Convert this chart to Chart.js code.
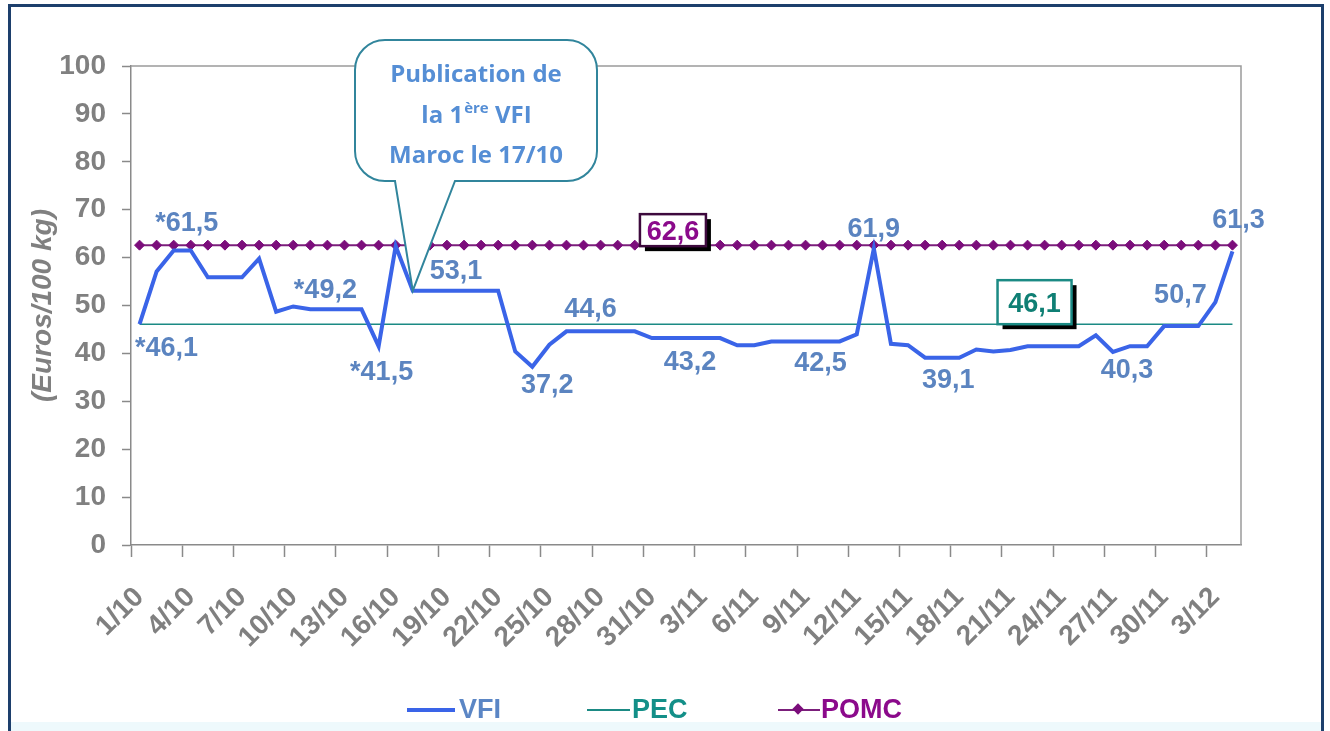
<!DOCTYPE html>
<html>
<head>
<meta charset="utf-8">
<script src="https://cdn.jsdelivr.net/npm/chart.js@4.4.0/dist/chart.umd.min.js"></script>
<style>
  body { margin: 0; background: #fff; }
  #wrap { position: relative; width: 1330px; height: 731px; overflow: hidden; background: #fff;
          font-family: "Liberation Sans", Arial, sans-serif; }
  #frame { position: absolute; left: 8px; top: 4px; width: 1316px; height: 780px;
           border: 3px solid #1d3f6c; box-sizing: border-box; }
  #strip { position: absolute; left: 11px; width: 1310px; top: 722px; height: 20px; background: #eef9fc; }
  canvas { position: absolute; left: 0; top: 0; }
  .lg { position: absolute; top: 694px; font: bold 27px "Liberation Sans", Arial, sans-serif; line-height: 30px; }
  .ln { position: absolute; }
</style>
</head>
<body>
<div id="wrap">
  <div id="frame"></div>
  <div id="strip"></div>
  <canvas id="chart" width="1330" height="731"></canvas>
  <div class="ln" style="left:407px;top:708px;width:48px;height:4px;background:#3a64e8"></div>
  <div class="lg" style="left:459px;color:#5b86c5">VFI</div>
  <div class="ln" style="left:587px;top:709px;width:43px;height:2px;background:#1b8a84"></div>
  <div class="lg" style="left:632px;color:#138f88">PEC</div>
  <div class="ln" style="left:778px;top:709px;width:42px;height:2px;background:#7b1f7b"></div>
  <div class="ln" style="left:794px;top:705px;width:8px;height:8px;background:#7b0d7b;transform:rotate(45deg)"></div>
  <div class="lg" style="left:821px;color:#8b0a8b">POMC</div>
</div>
<script>
// daily categories, 1 Oct -> 4 Dec
const categories = [
  '1/10','2/10','3/10','4/10','5/10','6/10','7/10','8/10','9/10','10/10',
  '11/10','12/10','13/10','14/10','15/10','16/10','17/10','18/10','19/10','20/10',
  '21/10','22/10','23/10','24/10','25/10','26/10','27/10','28/10','29/10','30/10','31/10',
  '1/11','2/11','3/11','4/11','5/11','6/11','7/11','8/11','9/11','10/11',
  '11/11','12/11','13/11','14/11','15/11','16/11','17/11','18/11','19/11','20/11',
  '21/11','22/11','23/11','24/11','25/11','26/11','27/11','28/11','29/11','30/11',
  '1/12','2/12','3/12','4/12'
];

const vfi = [
  46.1, 57.1, 61.5, 61.5, 55.9, 55.9, 55.9, 59.8, 48.7, 49.8,
  49.2, 49.2, 49.2, 49.2, 41.5, 62.4, 53.1, 53.1, 53.1, 53.1,
  53.1, 53.1, 40.4, 37.2, 41.8, 44.6, 44.6, 44.6, 44.6, 44.6, 43.2,
  43.2, 43.2, 43.2, 43.2, 41.7, 41.7, 42.5, 42.5, 42.5, 42.5,
  42.5, 44.0, 61.9, 42.0, 41.7, 39.1, 39.1, 39.1, 40.8, 40.4,
  40.7, 41.5, 41.5, 41.5, 41.5, 43.8, 40.3, 41.5, 41.5, 45.7,
  45.7, 45.7, 50.7, 61.3
];

const pec = [
  46.1, 46.1, 46.1, 46.1, 46.1, 46.1, 46.1, 46.1, 46.1, 46.1,
  46.1, 46.1, 46.1, 46.1, 46.1, 46.1, 46.1, 46.1, 46.1, 46.1,
  46.1, 46.1, 46.1, 46.1, 46.1, 46.1, 46.1, 46.1, 46.1, 46.1, 46.1,
  46.1, 46.1, 46.1, 46.1, 46.1, 46.1, 46.1, 46.1, 46.1, 46.1,
  46.1, 46.1, 46.1, 46.1, 46.1, 46.1, 46.1, 46.1, 46.1, 46.1,
  46.1, 46.1, 46.1, 46.1, 46.1, 46.1, 46.1, 46.1, 46.1, 46.1,
  46.1, 46.1, 46.1, 46.1
];

const pomc = [
  62.6, 62.6, 62.6, 62.6, 62.6, 62.6, 62.6, 62.6, 62.6, 62.6,
  62.6, 62.6, 62.6, 62.6, 62.6, 62.6, 62.6, 62.6, 62.6, 62.6,
  62.6, 62.6, 62.6, 62.6, 62.6, 62.6, 62.6, 62.6, 62.6, 62.6, 62.6,
  62.6, 62.6, 62.6, 62.6, 62.6, 62.6, 62.6, 62.6, 62.6, 62.6,
  62.6, 62.6, 62.6, 62.6, 62.6, 62.6, 62.6, 62.6, 62.6, 62.6,
  62.6, 62.6, 62.6, 62.6, 62.6, 62.6, 62.6, 62.6, 62.6, 62.6,
  62.6, 62.6, 62.6, 62.6
];

const yTicks = [0, 10, 20, 30, 40, 50, 60, 70, 80, 90, 100];

// value labels written on the VFI curve: [index, text]
const vfiLabels = [
  [0, '*46,1'], [3, '*61,5'], [11, '*49,2'], [14, '*41,5'], [18, '53,1'],
  [23, '37,2'], [26, '44,6'], [32, '43,2'], [39, '42,5'], [43, '61,9'],
  [47, '39,1'], [57, '40,3'], [63, '50,7'], [64, '61,3']
];
const boxLabels = [
  { series: 'pomc', index: 31, text: '62,6' },
  { series: 'pec', index: 52, text: '46,1' }
];
const calloutLines = ['Publication de', 'la 1', 'ère', ' VFI', 'Maroc le 17/10'];

// ---- layout (pixel offsets from the anchored point) ----
const labelOffsets = {
  0: [27, 22], 3: [-4, -29], 11: [-2, -21], 14: [3, 24], 18: [9, -22],
  23: [15, 16], 26: [7, -24], 32: [4, 22], 39: [15, 20], 43: [0, -21],
  47: [6, 20], 57: [14, 16], 63: [-35, -9], 64: [6, -33]
};
const boxStyle = {
  pomc: { dx: 4, dy: -15, w: 66, h: 32, color: '#8b0a8b', border: '#3d0a3d' },
  pec: { dx: 7, dy: -22, w: 74, h: 44, color: '#0f7f74', border: '#1b8a84' }
};

const FONT = '"Liberation Sans", Arial, sans-serif';
Chart.defaults.font.family = FONT;

const decorations = {
  id: 'decorations',
  beforeDatasetsDraw(chart) {
    const { ctx, chartArea: a } = chart;
    ctx.save();
    ctx.strokeStyle = '#9a9a9a';
    ctx.lineWidth = 1.5;
    ctx.beginPath();
    ctx.moveTo(a.left, a.top);
    ctx.lineTo(a.right, a.top);
    ctx.lineTo(a.right, a.bottom);
    ctx.stroke();
    ctx.restore();
  },
  afterDatasetsDraw(chart) {
    const { ctx } = chart;
    const xs = chart.scales.x, ys = chart.scales.y;
    ctx.save();

    // value labels
    ctx.font = 'bold 27px ' + FONT;
    ctx.fillStyle = '#5b84c0';
    ctx.textAlign = 'center';
    ctx.textBaseline = 'alphabetic';
    vfiLabels.forEach(([i, t]) => {
      const o = labelOffsets[i];
      const x = xs.getPixelForValue(i) + o[0];
      const y = ys.getPixelForValue(vfi[i]) + o[1];
      ctx.fillText(t, x, y + 10);
    });

    // boxed labels
    const series = { pomc, pec };
    boxLabels.forEach(b => {
      const s = boxStyle[b.series];
      const cx = xs.getPixelForValue(b.index) + s.dx;
      const cy = ys.getPixelForValue(series[b.series][b.index]) + s.dy;
      const l = cx - s.w / 2, t = cy - s.h / 2;
      ctx.fillStyle = '#000';
      ctx.fillRect(l + 5, t + 5, s.w, s.h);
      ctx.fillStyle = '#fff';
      ctx.fillRect(l, t, s.w, s.h);
      ctx.strokeStyle = s.border;
      ctx.lineWidth = 2.5;
      ctx.strokeRect(l, t, s.w, s.h);
      ctx.fillStyle = s.color;
      ctx.font = 'bold 27px ' + FONT;
      ctx.fillText(b.text, cx, cy + 10);
    });

    // callout pointing at the 17/10 value
    const tipX = xs.getPixelForValue(16), tipY = ys.getPixelForValue(vfi[16]);
    const L = 355, T = 40, R = 597, B = 181, r = 30;
    ctx.beginPath();
    ctx.moveTo(L + r, T);
    ctx.arcTo(R, T, R, B, r);
    ctx.arcTo(R, B, L, B, r);
    ctx.lineTo(455, B);
    ctx.lineTo(tipX, tipY);
    ctx.lineTo(395, B);
    ctx.arcTo(L, B, L, T, r);
    ctx.arcTo(L, T, R, T, r);
    ctx.closePath();
    ctx.fillStyle = '#ffffff';
    ctx.fill();
    ctx.strokeStyle = '#31859c';
    ctx.lineWidth = 2;
    ctx.stroke();

    const cf = '"Open Sans", sans-serif';
    ctx.fillStyle = '#558ed5';
    ctx.font = 'bold 24px ' + cf;
    ctx.textAlign = 'center';
    ctx.fillText(calloutLines[0], 476, 82);
    ctx.fillText(calloutLines[4], 476, 163);
    // second line with superscript
    ctx.textAlign = 'left';
    const w1 = ctx.measureText(calloutLines[1]).width;
    const w3 = ctx.measureText(calloutLines[3]).width;
    ctx.font = 'bold 15px ' + cf;
    const w2 = ctx.measureText(calloutLines[2]).width;
    let x0 = 476 - (w1 + w2 + w3) / 2;
    ctx.font = 'bold 24px ' + cf;
    ctx.fillText(calloutLines[1], x0, 123);
    ctx.font = 'bold 15px ' + cf;
    ctx.fillText(calloutLines[2], x0 + w1 + 1, 113);
    ctx.font = 'bold 24px ' + cf;
    ctx.fillText(calloutLines[3], x0 + w1 + w2 + 1, 123);

    ctx.restore();
  }
};

new Chart(document.getElementById('chart'), {
  type: 'line',
  data: {
    labels: categories,
    datasets: [
      {
        label: 'VFI',
        data: vfi,
        borderColor: '#3a64e8',
        borderWidth: 4,
        pointRadius: 0,
        tension: 0
      },
      {
        label: 'PEC',
        data: pec,
        borderColor: '#1b8a84',
        borderWidth: 1.5,
        pointRadius: 0
      },
      {
        label: 'POMC',
        data: pomc,
        borderColor: '#7b1f7b',
        borderWidth: 2,
        pointStyle: 'rectRot',
        pointRadius: 5,
        pointBackgroundColor: '#7b0d7b',
        pointBorderColor: '#7b0d7b',
        pointBorderWidth: 1
      }
    ]
  },
  options: {
    responsive: false,
    animation: false,
    devicePixelRatio: 1,
    layout: { padding: { top: 66, left: 16, right: 89, bottom: 80 } },
    plugins: {
      legend: { display: false },
      tooltip: { enabled: false }
    },
    scales: {
      x: {
        offset: true,
        border: { color: '#8a8a8a', width: 1.5 },
        grid: {
          offset: true,
          drawOnChartArea: false,
          tickLength: 12,
          tickWidth: 1.5,
          tickColor: c => (c.index !== undefined && c.index % 3 === 0) ? '#8a8a8a' : 'rgba(0,0,0,0)'
        },
        ticks: {
          autoSkip: false,
          minRotation: 45,
          maxRotation: 45,
          padding: 24,
          color: '#808080',
          font: { size: 28, weight: 'bold' },
          callback: (v, i) => (i % 3 === 0 ? categories[i] : '')
        },
        afterFit: s => { s.height = 106; }
      },
      y: {
        min: 0,
        max: 100,
        border: { color: '#8a8a8a', width: 1.5 },
        grid: { drawOnChartArea: false, tickLength: 9, tickWidth: 1.5, color: '#8a8a8a' },
        afterBuildTicks: s => { s.ticks = yTicks.map(v => ({ value: v })); },
        ticks: {
          padding: 16,
          color: '#808080',
          font: { size: 28, weight: 'bold' }
        },
        title: {
          display: true,
          text: '(Euros/100 kg)',
          color: '#808080',
          padding: { top: 10, bottom: 0 },
          font: { size: 28, weight: 'bold', style: 'italic' }
        },
        afterFit: s => { s.width = 115; }
      }
    }
  },
  plugins: [decorations]
});
</script>
</body>
</html>
